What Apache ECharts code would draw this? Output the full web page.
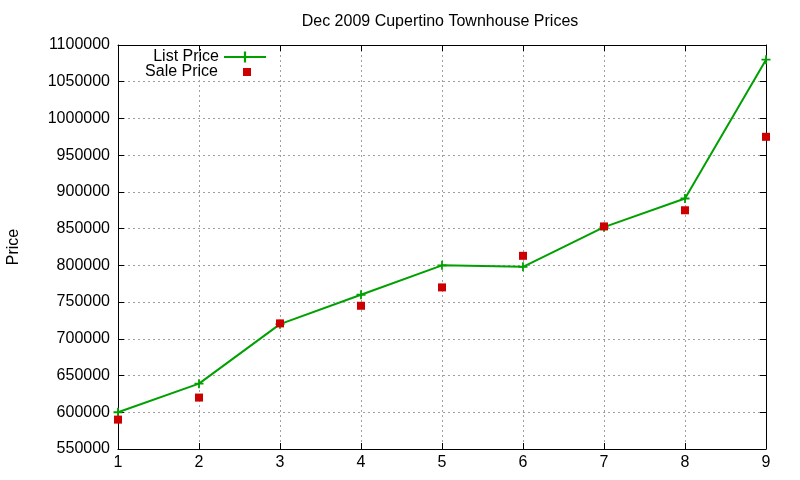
<!DOCTYPE html>
<html><head><meta charset="utf-8">
<script src="https://cdn.jsdelivr.net/npm/echarts@6/dist/echarts.min.js"></script>
<style>html,body{margin:0;padding:0;background:#fff}#c{width:800px;height:480px}</style>
</head><body><div id="c"></div>
<script>
const months = [1, 2, 3, 4, 5, 6, 7, 8, 9];
const listPrice = [600000, 639000, 720000, 760000, 800000, 798000, 852000, 891000, 1080000];
const salePrice = [590000, 620000, 721000, 745000, 770000, 813000, 853000, 875000, 975000];
const yTicks = { min: 550000, max: 1100000, interval: 50000 };
const xTicks = { min: 1, max: 9, interval: 1 };

const FONT = 'Liberation Sans';
const plus = 'path://M4,0H6V4H10V6H6V10H4V6H0V4H4Z';
const chart = echarts.init(document.getElementById('c'));
const grid = { left: 118, right: 34, top: 45, bottom: 31, show: false, containLabel: false, outerBoundsMode: 'none' };
const gridLine = { show: true, lineStyle: { color: '#a0a0a0', type: [2, 3], width: 1 } };
const axisLine = { show: true, lineStyle: { color: '#000', width: 1 } };
const tick = { show: true, inside: true, length: 6, lineStyle: { color: '#000' } };
chart.setOption({
  animation: false,
  textStyle: { fontFamily: FONT },
  title: { text: 'Dec 2009 Cupertino Townhouse Prices', left: 435, top: 9, textAlign: 'center',
    textStyle: { fontFamily: FONT, fontSize: 16, fontWeight: 'normal', color: '#000' } },
  grid: grid,
  legend: [
    { data: ['List Price'], right: 528, top: 44, orient: 'vertical', align: 'right',
      itemWidth: 42, itemHeight: 14, textStyle: { fontFamily: FONT, fontSize: 16, color: '#000' } },
    { data: ['Sale Price'], right: 544, top: 59, orient: 'vertical', align: 'right',
      itemWidth: 8, itemHeight: 8, textStyle: { fontFamily: FONT, fontSize: 16, color: '#000', padding: [0, 20, 0, 0] } }
  ],
  xAxis: [
    { type: 'value', min: xTicks.min, max: xTicks.max, interval: xTicks.interval, position: 'bottom',
      axisLine: axisLine, axisTick: tick, splitLine: gridLine,
      axisLabel: { fontFamily: FONT, fontSize: 16, color: '#000', margin: 6 } },
    { type: 'value', min: xTicks.min, max: xTicks.max, interval: xTicks.interval, position: 'top',
      axisLine: axisLine, axisTick: tick, splitLine: { show: false }, axisLabel: { show: false } }
  ],
  yAxis: [
    { type: 'value', min: yTicks.min, max: yTicks.max, interval: yTicks.interval, position: 'left',
      name: 'Price', nameLocation: 'middle', nameGap: 96, nameRotate: 90,
      nameTextStyle: { fontFamily: FONT, fontSize: 16, color: '#000' },
      axisLine: axisLine, axisTick: tick, splitLine: gridLine,
      axisLabel: { fontFamily: FONT, fontSize: 16, color: '#000', margin: 8, formatter: v => String(v) } },
    { type: 'value', min: yTicks.min, max: yTicks.max, interval: yTicks.interval, position: 'right',
      axisLine: axisLine, axisTick: tick, splitLine: { show: false }, axisLabel: { show: false } }
  ],
  series: [
    { name: 'List Price', type: 'line', data: months.map((m, i) => [m, listPrice[i]]),
      symbol: plus, symbolSize: 9, showAllSymbol: true, z: 3,
      lineStyle: { color: '#00a000', width: 2 }, itemStyle: { color: '#00a000' } },
    { name: 'Sale Price', type: 'scatter', data: months.map((m, i) => [m, salePrice[i]]),
      symbol: 'rect', symbolSize: 8, z: 4, itemStyle: { color: '#cc0000', opacity: 1 } }
  ]
});
</script></body></html>
